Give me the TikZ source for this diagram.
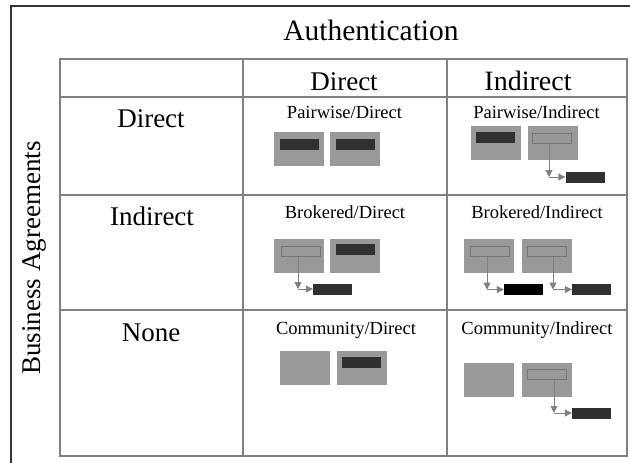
\documentclass[tikz,border=0pt]{standalone}
\usepackage{fontspec}
\setmainfont{Liberation Serif}
\usetikzlibrary{arrows.meta}
\definecolor{boxgray}{RGB}{153,153,153}
\definecolor{bardark}{RGB}{48,48,48}
\definecolor{gridgray}{RGB}{128,128,128}
\definecolor{slotgray}{RGB}{118,118,118}

\begin{document}
\begin{tikzpicture}[x=1pt,y=-1pt,
  srv/.style={fill=boxgray,minimum width=50pt,minimum height=34pt,inner sep=0pt},
  tok/.style={fill=bardark,minimum width=39pt,minimum height=11pt,inner sep=0pt},
  slot/.style={draw=slotgray,fill=boxgray,line width=1pt,minimum width=39pt,minimum height=10pt,inner sep=0pt},
  hop/.style={draw=gridgray,line width=1pt,-{Triangle[length=7pt,width=7pt]}},
  big/.style={font=\fontsize{27}{30}\selectfont,anchor=base},
  small/.style={font=\fontsize{18.5}{20}\selectfont,anchor=base}]
        \useasboundingbox (0,0) rectangle (630,463);
        % frame and table
        \draw[line width=1.5pt,color=black!80] (11,463) -- (11,6) -- (630,6);
        \draw[line width=2pt,color=gridgray] (60,59) rectangle (627,456);
        \draw[line width=2pt,color=gridgray] (60,97) -- (627,97);
        \draw[line width=2pt,color=gridgray] (60,195) -- (627,195);
        \draw[line width=2pt,color=gridgray] (60,310) -- (627,310);
        \draw[line width=2pt,color=gridgray] (243,59) -- (243,456);
        \draw[line width=2pt,color=gridgray] (447,59) -- (447,456);
        % headings
        \node[big,font=\fontsize{29.5}{32}\selectfont] (auth) at (371,40) {Authentication};
        \node[big,rotate=90] (busi) at (41,258) {Business Agreements};
        \node[big] (colD) at (344,90) {Direct};
        \node[big,font=\fontsize{28}{30}\selectfont] (colI) at (528,90) {Indirect};
        \node[big] (rowD) at (151,127) {Direct};
        \node[big] (rowI) at (152,225) {Indirect};
        \node[big] (rowN) at (151,341) {None};
        % cell titles
        \node[small] (tPD) at (344.5,118) {Pairwise/Direct};
        \node[small] (tPI) at (536.5,118) {Pairwise/Indirect};
        \node[small] (tBD) at (345,218) {Brokered/Direct};
        \node[small] (tBI) at (537,218) {Brokered/Indirect};
        \node[small] (tCD) at (346,334) {Community/Direct};
        \node[small] (tCI) at (537,334) {Community/Indirect};
        % pairwise / direct
        \node[srv] (pdA) at (299,148.5) {};
        \node[tok] (pdAt) at (299,144) {};
        \node[srv] (pdB) at (355,148.5) {};
        \node[tok] (pdBt) at (355.5,144) {};
        % pairwise / indirect
        \node[srv] (piA) at (495.5,143) {};
        \node[tok] (piAt) at (495,137.5) {};
        \node[srv] (piB) at (552.5,143) {};
        \node[slot] (piBs) at (552,138.5) {};
        \coordinate (piBc) at (549,177);
        \node[tok] (piBt) at (585,177) {};
        \draw[hop] (piBs.south -| piBc) -- (piBc);
        \draw[hop] (piBc) -- (piBt.west);
        % brokered / direct
        \node[srv] (bdA) at (299,255.5) {};
        \node[slot] (bdAs) at (300.5,251) {};
        \coordinate (bdAc) at (298,289);
        \node[tok] (bdAt) at (332.5,289) {};
        \draw[hop] (bdAs.south -| bdAc) -- (bdAc);
        \draw[hop] (bdAc) -- (bdAt.west);
        \node[srv] (bdB) at (355,255.5) {};
        \node[tok] (bdBt) at (355.5,249.5) {};
        % brokered / indirect
        \node[srv] (biA) at (489,255.5) {};
        \node[slot] (biAs) at (490,251) {};
        \coordinate (biAc) at (487,289.5);
        \node[tok,fill=black] (biAt) at (523.5,289.5) {};
        \draw[hop] (biAs.south -| biAc) -- (biAc);
        \draw[hop] (biAc) -- (biAt.west);
        \node[srv] (biB) at (546.5,255.5) {};
        \node[slot] (biBs) at (547,251) {};
        \coordinate (biBc) at (553,289.5);
        \node[tok] (biBt) at (591.5,289.5) {};
        \draw[hop] (biBs.south -| biBc) -- (biBc);
        \draw[hop] (biBc) -- (biBt.west);
        % community / direct
        \node[srv] (cdA) at (304.5,368) {};
        \node[srv] (cdB) at (361.5,368) {};
        \node[tok] (cdBt) at (361,362) {};
        % community / indirect
        \node[srv] (ciA) at (489,379.5) {};
        \node[srv] (ciB) at (546.5,379.5) {};
        \node[slot] (ciBs) at (546.5,374.5) {};
        \coordinate (ciBc) at (554,413);
        \node[tok] (ciBt) at (591.5,413) {};
        \draw[hop] (ciBs.south -| ciBc) -- (ciBc);
        \draw[hop] (ciBc) -- (ciBt.west);
\end{tikzpicture}
\end{document}
